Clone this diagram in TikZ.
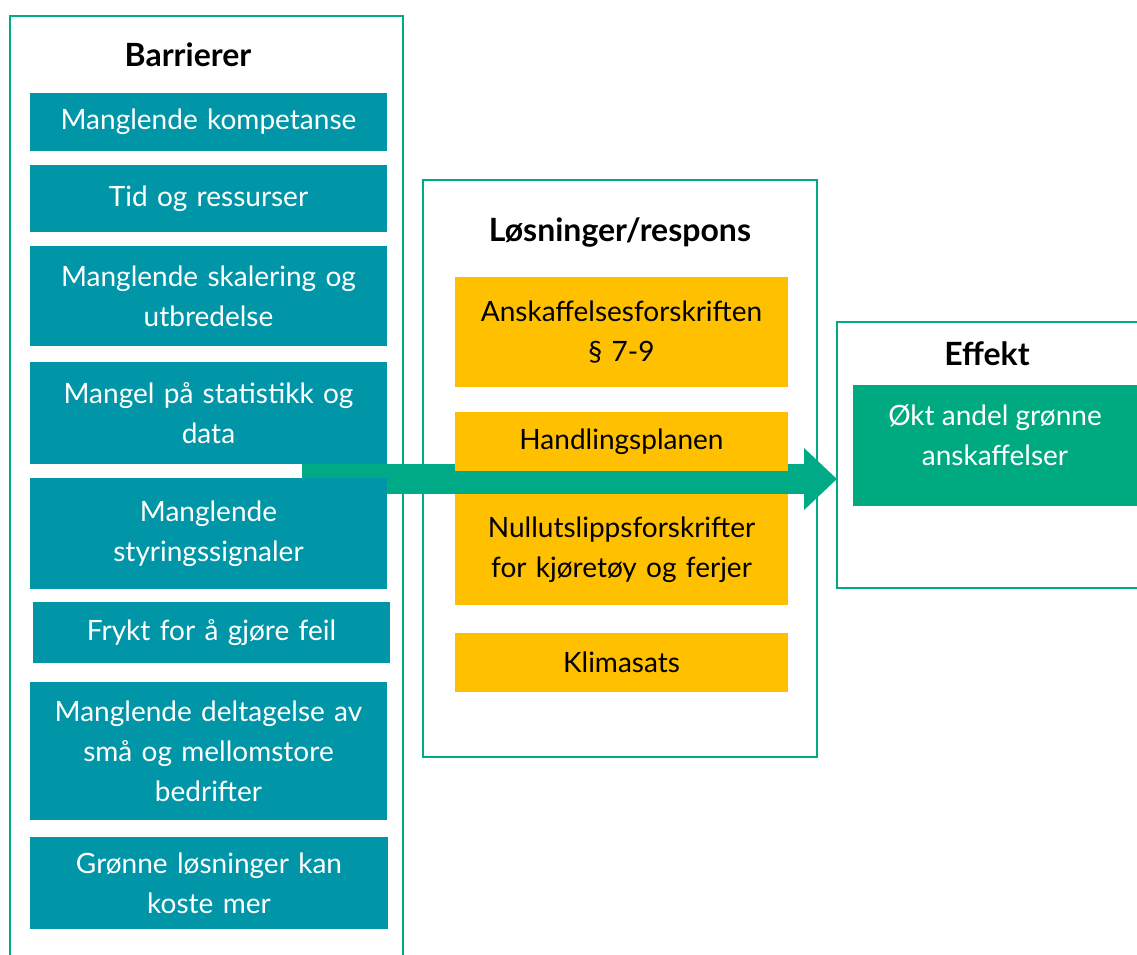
\documentclass[tikz,border=0pt]{standalone}
\usepackage{fontspec}
\setmainfont{Lato}
\usetikzlibrary{arrows.meta,backgrounds}
\definecolor{framegreen}{RGB}{0,170,134}
\definecolor{barteal}{RGB}{0,150,168}
\definecolor{solyellow}{RGB}{255,192,0}
\definecolor{effgreen}{RGB}{0,170,128}
\begin{document}
\begin{tikzpicture}[x=1pt, y=-1pt,
  frame/.style={draw=framegreen, line width=2.2pt},
  title/.style={font=\fontsize{32}{36}\selectfont\bfseries},
  barrier/.style={fill=barteal, text=white, minimum width=357pt, align=center,
    text width=345pt, inner sep=0pt, font=\fontsize{28}{40}\selectfont},
  solution/.style={fill=solyellow, text=black, minimum width=333pt, align=center,
    text width=325pt, inner sep=0pt, font=\fontsize{28}{40}\selectfont}]
\useasboundingbox (0,0) rectangle (1137,955);
\clip (0,0) rectangle (1137,955);

% frames
\draw[frame] (10,16) rectangle (403,975);
\draw[frame] (423,180) rectangle (817,757);
\draw[frame] (837,322) rectangle (1160,588);
\node[title] (bartitle) at (188,55) {Barrierer};
\node[title] (soltitle) at (620,232) {Løsninger/respons};
\node[title] (efftitle) at (987,354) {Effekt};

% barrierer
\node[barrier, minimum height=58pt] (kompetanse) at (208.5,122) {Manglende kompetanse};
\node[barrier, minimum height=67pt] (tid) at (208.5,198.5) {Tid og ressurser};
\node[barrier, minimum height=100pt] (skalering) at (208.5,296) {Manglende skalering og\\utbredelse};
\node[barrier, minimum height=102pt] (statistikk) at (208.5,413) {Mangel på statistikk og\\data};
\node[barrier, minimum height=111pt] (styring) at (208.5,533.5) {Manglende\\styringssignaler};
\node[barrier, minimum height=61pt] (frykt) at (211.5,632.5) {Frykt for å gjøre feil};
\node[barrier, minimum height=138pt] (deltagelse) at (208.5,751) {Manglende deltagelse av\\små og mellomstore\\bedrifter};
\node[barrier, minimum height=92pt, minimum width=358pt] (koster) at (209,883) {Grønne løsninger kan\\koste mer};

% løsninger
\node[solution, minimum height=110pt] (forskrift) at (621.5,332) {Anskaffelsesforskriften\\§ 7-9};
\node[solution, minimum height=59pt] (handling) at (621.5,441.5) {Handlingsplanen};
\node[solution, minimum height=111pt] (nullutslipp) at (621.5,549.5) {Nullutslippsforskrifter\\for kjøretøy og ferjer};
\node[solution, minimum height=59pt] (klimasats) at (621.5,662.5) {Klimasats};

% effekt
\node[fill=effgreen, minimum width=284pt, minimum height=121pt, inner sep=0pt] (gain) at (995,445.5) {};
\node[text=white, align=center, font=\fontsize{28}{40}\selectfont] (gaintext) at ([yshift=10pt]gain.center) {Økt andel grønne\\anskaffelser};

\coordinate (arrowstart) at (302,479);
\begin{scope}[on background layer]
\draw[framegreen, line width=30pt, -{Triangle[width=60pt,length=33pt]}]
  (arrowstart) -- (arrowstart -| 837,0);
\end{scope}
\end{tikzpicture}
\end{document}
